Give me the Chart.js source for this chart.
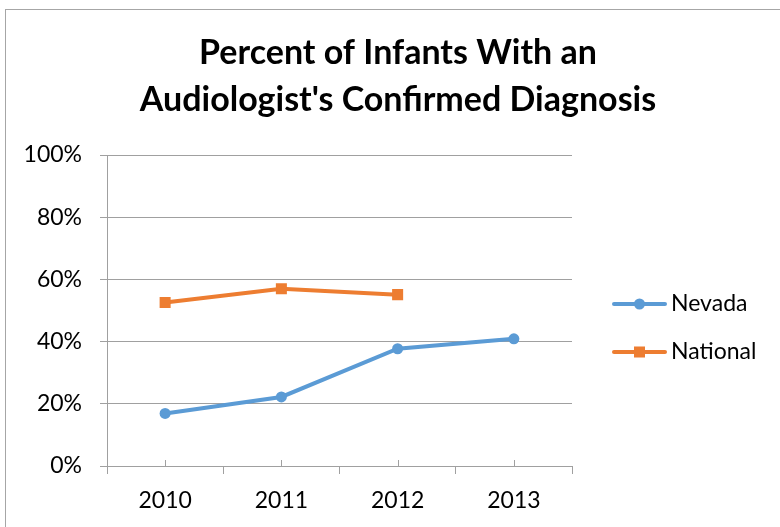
<!DOCTYPE html>
<html lang="en">
  <head>
    <meta charset="UTF-8" />
    <title>Percent of Infants With an Audiologist's Confirmed Diagnosis</title>
    <script src="https://cdn.jsdelivr.net/npm/chart.js"></script>
    <style>
      html, body { margin: 0; padding: 0; background: #fff; overflow: hidden; }
      .frame {
        position: absolute; left: 5px; top: 9px; width: 800px; height: 600px;
        border: 1px solid #a6a6a6; box-sizing: border-box;
      }
      .wrap { position: absolute; left: 0; top: 0; width: 780px; height: 527px; }
    </style>
  </head>
  <body>
    <div class="frame"></div>
    <div class="wrap"><canvas id="diagnosisChart" width="780" height="527"></canvas></div>

    <script>
      // data
      var years = ["2010", "2011", "2012", "2013"];
      var nevada = [0.169, 0.222, 0.377, 0.409];
      var national = [0.526, 0.570, 0.551, null];
      var seriesNames = ["Nevada", "National"];
      var yTicks = [0, 0.2, 0.4, 0.6, 0.8, 1.0];
      var titleLines = ["Percent of Infants With an", "Audiologist's Confirmed Diagnosis"];

      var FONT = "Lato, 'Open Sans', sans-serif";
      var GRID = "#a0a0a0";

      // title, legend and the small inside ticks on the category axis
      var decorations = {
        id: "decorations",
        afterDraw: function (chart) {
          var ctx = chart.ctx;
          var area = chart.chartArea;
          ctx.save();

          // title
          ctx.fillStyle = "#000";
          ctx.font = "bold 34px " + FONT;
          ctx.textAlign = "center";
          ctx.textBaseline = "middle";
          ctx.fillText(titleLines[0], 398, 53);
          ctx.fillText(titleLines[1], 398, 100);

          // inner ticks at category centres
          var xs = chart.scales.x;
          ctx.strokeStyle = GRID;
          ctx.lineWidth = 1;
          years.forEach(function (y, i) {
            var px = Math.round(xs.getPixelForValue(i)) + 0.5;
            ctx.beginPath();
            ctx.moveTo(px, area.bottom);
            ctx.lineTo(px, area.bottom - 6);
            ctx.stroke();
          });

          // legend
          var rows = [304, 352];
          chart.data.datasets.forEach(function (ds, i) {
            var ly = rows[i];
            ctx.strokeStyle = ds.borderColor;
            ctx.lineWidth = ds.borderWidth;
            ctx.lineCap = "round";
            ctx.beginPath();
            ctx.moveTo(614, ly);
            ctx.lineTo(665, ly);
            ctx.stroke();
            ctx.fillStyle = ds.backgroundColor;
            if (ds.pointStyle === "rect") {
              ctx.fillRect(634, ly - 5.5, 11, 11);
            } else {
              ctx.beginPath();
              ctx.arc(639.5, ly, 5.5, 0, Math.PI * 2);
              ctx.fill();
            }
            ctx.fillStyle = "#000";
            ctx.font = "23px " + FONT;
            ctx.textAlign = "left";
            ctx.fillText(ds.label, 671, ly);
          });
          ctx.restore();
        },
      };

      var ctx = document.getElementById("diagnosisChart").getContext("2d");
      var chart = new Chart(ctx, {
        type: "line",
        data: {
          labels: years,
          datasets: [
            {
              label: seriesNames[0],
              data: nevada,
              borderColor: "#5b9bd5",
              backgroundColor: "#5b9bd5",
              borderWidth: 4,
              pointStyle: "circle",
              pointRadius: 5.5,
              pointBorderWidth: 0,
              tension: 0,
            },
            {
              label: seriesNames[1],
              data: national,
              borderColor: "#ed7d31",
              backgroundColor: "#ed7d31",
              borderWidth: 4,
              pointStyle: "rect",
              pointRadius: 7.8,
              pointBorderWidth: 0,
              tension: 0,
            },
          ],
        },
        options: {
          responsive: false,
          animation: false,
          layout: { padding: { left: 0, top: 155, right: 208, bottom: 0 } },
          plugins: {
            legend: { display: false },
            title: { display: false },
            tooltip: { enabled: false },
          },
          scales: {
            x: {
              offset: true,
              afterFit: function (s) { s.height = 61; },
              grid: {
                offset: true,
                drawOnChartArea: false,
                drawTicks: true,
                tickLength: 8,
                color: GRID,
              },
              border: { color: GRID },
              ticks: {
                color: "#000",
                padding: 13,
                maxRotation: 0,
                font: { family: FONT, size: 23 },
              },
            },
            y: {
              min: 0,
              max: 1,
              afterFit: function (s) { s.width = 107; },
              afterBuildTicks: function (s) {
                s.ticks = yTicks.map(function (v) { return { value: v }; });
              },
              grid: { color: GRID, tickLength: 7 },
              border: { color: GRID },
              ticks: {
                color: "#000",
                padding: 18,
                font: { family: FONT, size: 23 },
                callback: function (v) { return Math.round(v * 100) + "%"; },
              },
            },
          },
        },
        plugins: [decorations],
      });
    </script>
  </body>
</html>
